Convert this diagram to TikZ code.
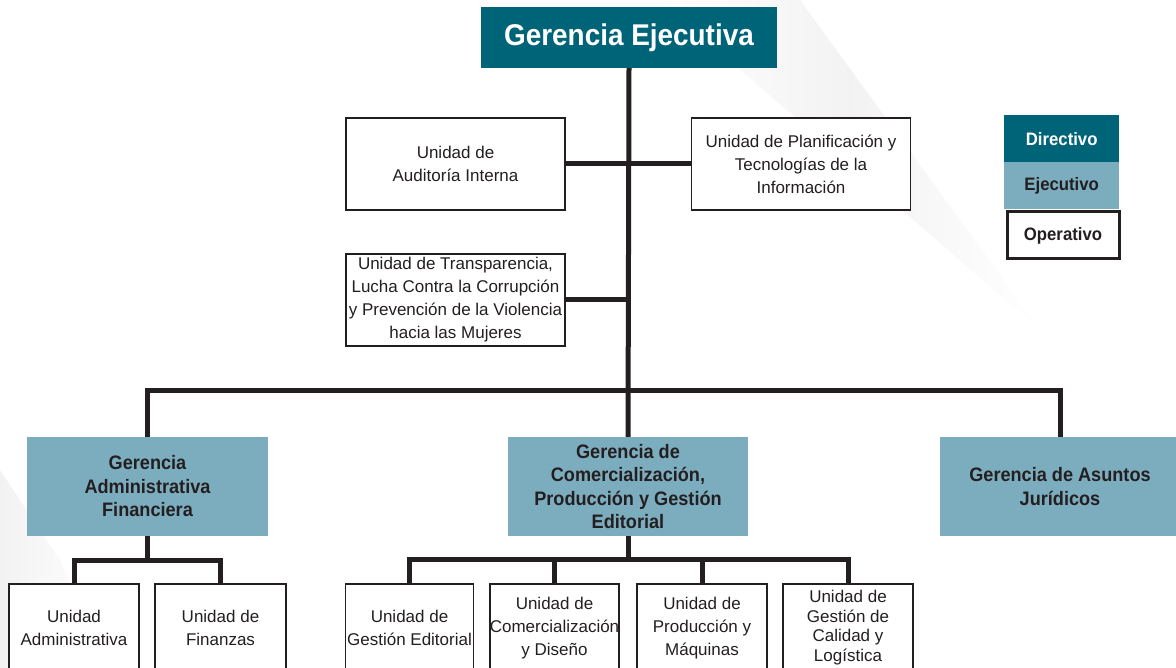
\documentclass[tikz,border=0pt]{standalone}
\usepackage{fontspec}
\setmainfont{Liberation Sans}[BoldFeatures={FakeStretch=0.93}]
\definecolor{dirc}{HTML}{006479}
\definecolor{ejec}{HTML}{7CADBF}
\definecolor{ink}{HTML}{231F20}
\tikzset{
  conn/.style={draw=ink, line width=5pt, line join=miter},
  dirbox/.style={fill=dirc, text=white, font=\bfseries\fontsize{30}{34}\selectfont, inner sep=0pt, align=center},
  ejebox/.style={fill=ejec, text=ink, font=\bfseries\fontsize{19.5}{23.5}\selectfont, inner sep=0pt, align=center},
  opbox/.style={draw=ink, line width=1.6pt, fill=white, text=ink, font=\fontsize{17}{23}\selectfont, inner sep=0pt, align=center},
  legbox/.style={inner sep=0pt, minimum width=115pt, font=\bfseries\fontsize{18}{21}\selectfont, text=ink},
}
\begin{document}
\begin{tikzpicture}[x=1pt,y=-1pt]
\useasboundingbox (0,0) rectangle (1176,668);
\clip (0,0) rectangle (1176,668);
% faint background swooshes
\shade[shading angle=40, left color=white, right color=white, middle color=black!5]
  (660,0) -- (800,0) -- (1040,330) -- cycle;
\shade[shading angle=-20, left color=black!5, right color=white]
  (0,470) -- (60,560) -- (110,668) -- (0,668) -- cycle;

% top
\node[dirbox, minimum width=296pt, minimum height=61pt] (ge) at (629,37.5) {Gerencia Ejecutiva};

% staff units
\node[opbox, minimum width=219pt, minimum height=92pt] (aud) at (455.5,164) {Unidad de\\Auditoría Interna};
\node[opbox, minimum width=219pt, minimum height=92pt] (pla) at (801,164) {Unidad de Planificación y\\Tecnologías de la\\Información};
\node[opbox, minimum width=219pt, minimum height=92pt] (tra) at (455.5,300) {Unidad de Transparencia,\\Lucha Contra la Corrupción\\y Prevención de la Violencia\\hacia las Mujeres};

% gerencias
\node[ejebox, minimum width=241pt, minimum height=99pt] (gaf) at (147.5,486.5) {Gerencia\\Administrativa\\Financiera};
\node[ejebox, minimum width=240pt, minimum height=99pt] (gc) at (628,486.5) {Gerencia de\\Comercialización,\\Producción y Gestión\\Editorial};
\node[ejebox, minimum width=240pt, minimum height=99pt] (gaj) at (1060,486.5) {Gerencia de Asuntos\\Jurídicos};

% bottom units
\node[opbox, minimum width=130pt, minimum height=88pt, anchor=north] (ua) at (74,583) {Unidad\\Administrativa};
\node[opbox, minimum width=131pt, minimum height=88pt, anchor=north] (uf) at (220.5,583) {Unidad de\\Finanzas};
\node[opbox, minimum width=128pt, minimum height=88pt, anchor=north] (uge) at (409.5,583) {Unidad de\\Gestión Editorial};
\node[opbox, minimum width=127pt, minimum height=88pt, anchor=north] (ucd) at (554.5,583) {Unidad de\\Comercialización\\y Diseño};
\node[opbox, minimum width=130pt, minimum height=88pt, anchor=north] (upm) at (702,583) {Unidad de\\Producción y\\Máquinas};
\node[opbox, minimum width=130pt, minimum height=88pt, anchor=north, font=\fontsize{17}{19.5}\selectfont] (ucl) at (848,583) {Unidad de\\Gestión de\\Calidad y\\Logística};

% legend
\node[legbox, fill=dirc, text=white, minimum height=47pt, anchor=north west] (ld) at (1004,115) {Directivo};
\node[legbox, fill=ejec, minimum height=47pt, anchor=north west] (le) at (1004,162) {Ejecutivo};
\node[legbox, draw=ink, line width=3pt, fill=white, minimum width=112pt, minimum height=47pt, anchor=north west] (lo) at (1005.5,210.5) {Operativo};

% connectors
\coordinate (bus) at (628,391);
\draw[conn] (ge.south) -- (gc.north);
\draw[conn] (aud.east) -- (pla.west);
\draw[conn] (tra.east) -- (tra.east -| ge.south);
\draw[conn] (gaf.north) |- (bus) -| (gaj.north);

\draw[conn] (gaf.south) -- ++(0,24) coordinate (gafbus);
\draw[conn] (ua.north) |- (gafbus) -| (uf.north);

\draw[conn] (gc.south) -- ++(0,23) coordinate (gcbus);
\draw[conn] (uge.north) |- (gcbus) -| (ucl.north);
\draw[conn] (ucd.north) -- (ucd.north |- gcbus);
\draw[conn] (upm.north) -- (upm.north |- gcbus);
\end{tikzpicture}
\end{document}
